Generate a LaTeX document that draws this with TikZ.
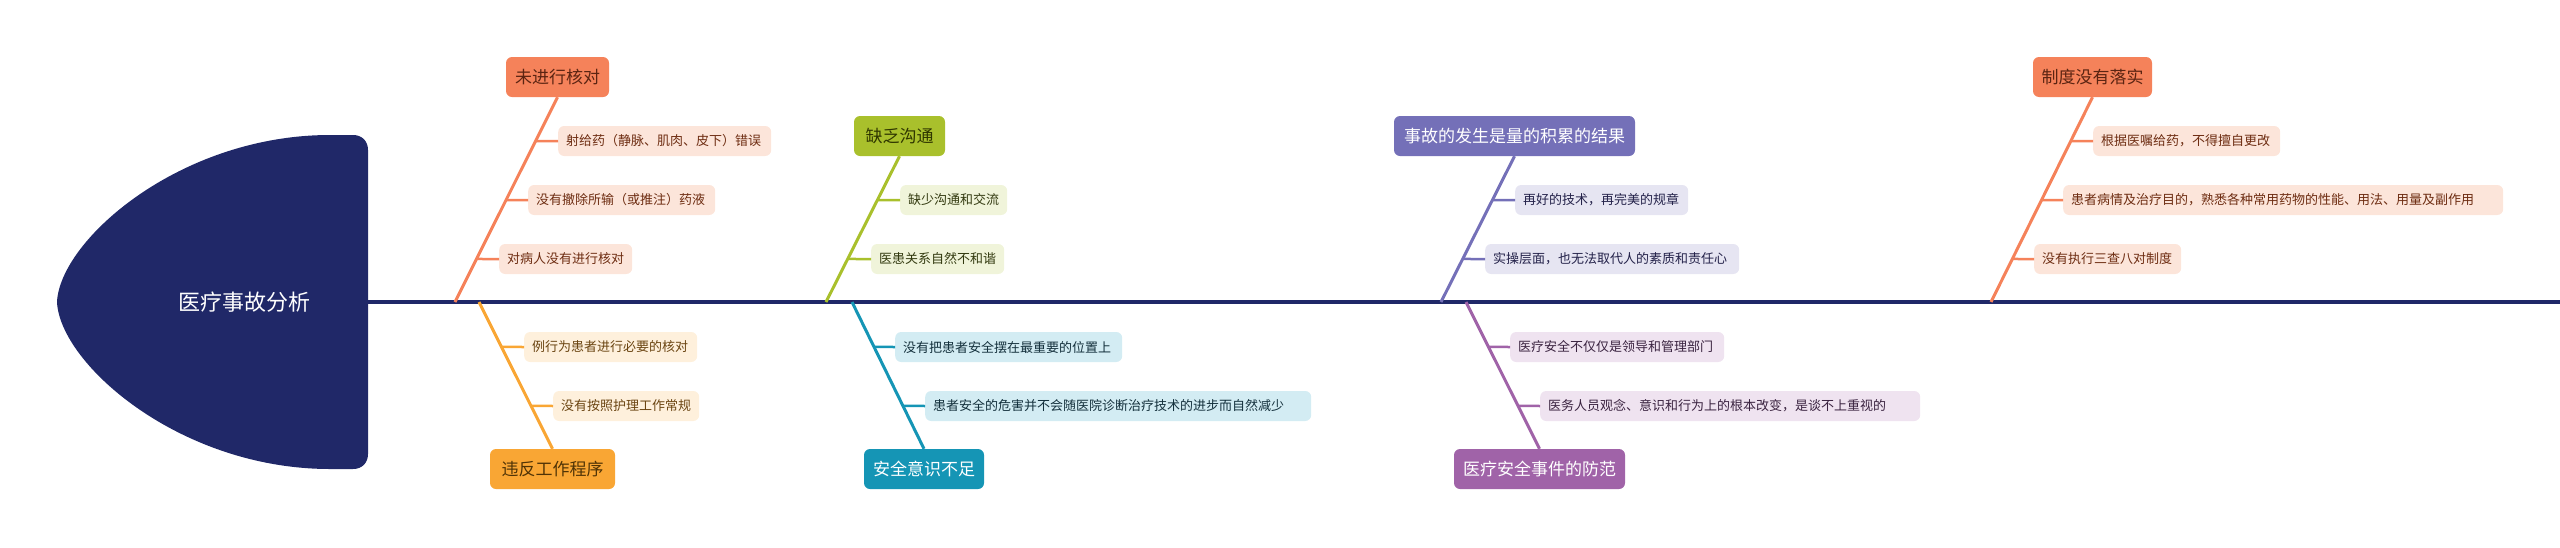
\documentclass[tikz,border=0pt]{standalone}
\usepackage{fontspec}
\setmainfont{Noto Sans CJK SC}
\usetikzlibrary{calc}
\definecolor{headc}{HTML}{202868}
\definecolor{orc}{HTML}{F5825A}
\definecolor{orsub}{HTML}{FCE5DA}
\definecolor{ortxt}{HTML}{5B2412}
\definecolor{orstxt}{HTML}{6E2D12}
\definecolor{amc}{HTML}{F9A634}
\definecolor{amsub}{HTML}{FEF0DC}
\definecolor{amtxt}{HTML}{4F3306}
\definecolor{amstxt}{HTML}{6B4512}
\definecolor{olc}{HTML}{A9C02C}
\definecolor{olsub}{HTML}{F0F4DA}
\definecolor{oltxt}{HTML}{2F3600}
\definecolor{olstxt}{HTML}{333A10}
\definecolor{tec}{HTML}{1595B5}
\definecolor{tesub}{HTML}{D3ECF3}
\definecolor{testxt}{HTML}{14303C}
\definecolor{slc}{HTML}{7470B8}
\definecolor{slsub}{HTML}{E6E5F2}
\definecolor{slstxt}{HTML}{24224A}
\definecolor{puc}{HTML}{A063A8}
\definecolor{pusub}{HTML}{EFE3F0}
\definecolor{pustxt}{HTML}{3A2340}
\newcommand\lb[2]{\hbox to #1pt{#2\hfil}}
\tikzset{
  mainbox/.style={rounded corners=6pt, minimum height=40pt, inner sep=0pt, font=\fontsize{17}{20}\selectfont},
  subbox/.style={rounded corners=6pt, minimum height=30pt, inner xsep=8pt, inner ysep=0pt, anchor=west, font=\fontsize{13}{16}\selectfont},
  bone/.style={line width=3pt},
  twig/.style={line width=2.5pt},
}
\begin{document}
\begin{tikzpicture}[x=1pt,y=-1pt]
\useasboundingbox (0,0) rectangle (2560,547);
% head
\fill[headc] (57,302) .. controls (60,240) and (180,135) .. (330,135) -- (353,135)
  .. controls (362,135) and (368,141) .. (368,150) -- (368,454)
  .. controls (368,463) and (362,469) .. (353,469) -- (330,469)
  .. controls (180,469) and (60,364) .. (57,302) -- cycle;
\node[text=white, font=\fontsize{22}{26}\selectfont] (head) at (244,302) {医疗事故分析};
\coordinate (hd) at (368,302);
\coordinate (tail) at (2560,302);
\draw[headc, line width=3.5pt] (hd) -- (tail);
% spine points
\coordinate (sA) at (455,302);
\coordinate (sB) at (479,302);
\coordinate (sC) at (826,302);
\coordinate (sD) at (852,302);
\coordinate (sE) at (1441,302);
\coordinate (sF) at (1466,302);
\coordinate (sG) at (1991,302);
% main nodes
\node[mainbox, fill=orc, text=ortxt, minimum width=103pt] (A) at (557.5,77) {未进行核对};
\node[mainbox, fill=amc, text=amtxt, minimum width=125pt] (B) at (552.5,469) {违反工作程序};
\node[mainbox, fill=olc, text=oltxt, minimum width=91pt] (C) at (899.5,136) {缺乏沟通};
\node[mainbox, fill=tec, text=white, minimum width=120pt] (D) at (924,469) {安全意识不足};
\node[mainbox, fill=slc, text=white, minimum width=241pt] (E) at (1514.5,136) {事故的发生是量的积累的结果};
\node[mainbox, fill=puc, text=white, minimum width=171pt] (F) at (1539.5,469) {医疗安全事件的防范};
\node[mainbox, fill=orc, text=ortxt, minimum width=119pt] (G) at (2092.5,77) {制度没有落实};
% bones
\draw[bone, orc] (A.south) -- (sA);
\draw[bone, amc] (sB) -- (B.north);
\draw[bone, olc] (C.south) -- (sC);
\draw[bone, tec] (sD) -- (D.north);
\draw[bone, slc] (E.south) -- (sE);
\draw[bone, puc] (sF) -- (F.north);
\draw[bone, orc] (G.south) -- (sG);
% sub nodes
\node[subbox, fill=orsub, text=orstxt] (A1) at (558,141) {\lb{197}{射给药（静脉、肌肉、皮下）错误}};
\node[subbox, fill=orsub, text=orstxt] (A2) at (528,200) {\lb{171}{没有撤除所输（或推注）药液}};
\node[subbox, fill=orsub, text=orstxt] (A3) at (499,259) {\lb{117}{对病人没有进行核对}};
\node[subbox, fill=amsub, text=amstxt] (B1) at (524,347) {\lb{157}{例行为患者进行必要的核对}};
\node[subbox, fill=amsub, text=amstxt] (B2) at (553,406) {\lb{130}{没有按照护理工作常规}};
\node[subbox, fill=olsub, text=olstxt] (C1) at (900,200) {\lb{91}{缺少沟通和交流}};
\node[subbox, fill=olsub, text=olstxt] (C2) at (871,259) {\lb{117}{医患关系自然不和谐}};
\node[subbox, fill=tesub, text=testxt] (D1) at (895,347) {\lb{211}{没有把患者安全摆在最重要的位置上}};
\node[subbox, fill=tesub, text=testxt] (D2) at (925,406) {\lb{370}{患者安全的危害并不会随医院诊断治疗技术的进步而自然减少}};
\node[subbox, fill=slsub, text=slstxt] (E1) at (1515,200) {\lb{157}{再好的技术，再完美的规章}};
\node[subbox, fill=slsub, text=slstxt] (E2) at (1485,259) {\lb{238}{实操层面，也无法取代人的素质和责任心}};
\node[subbox, fill=pusub, text=pustxt] (F1) at (1510,347) {\lb{198}{医疗安全不仅仅是领导和管理部门}};
\node[subbox, fill=pusub, text=pustxt] (F2) at (1540,406) {\lb{364}{医务人员观念、意识和行为上的根本改变，是谈不上重视的}};
\node[subbox, fill=orsub, text=orstxt] (G1) at (2093,141) {\lb{171}{根据医嘱给药，不得擅自更改}};
\node[subbox, fill=orsub, text=orstxt] (G2) at (2063,200) {\lb{424}{患者病情及治疗目的，熟悉各种常用药物的性能、用法、用量及副作用}};
\node[subbox, fill=orsub, text=orstxt] (G3) at (2034,259) {\lb{131}{没有执行三查八对制度}};
% twigs
\draw[twig, orc] (A1.west) -- ($(A.south)!0.215!(sA)$);
\draw[twig, orc] (A2.west) -- ($(A.south)!0.502!(sA)$);
\draw[twig, orc] (A3.west) -- ($(A.south)!0.790!(sA)$);
\draw[twig, amc] (B1.west) -- ($(sB)!0.306!(B.north)$);
\draw[twig, amc] (B2.west) -- ($(sB)!0.707!(B.north)$);
\draw[twig, olc] (C1.west) -- ($(C.south)!0.301!(sC)$);
\draw[twig, olc] (C2.west) -- ($(C.south)!0.705!(sC)$);
\draw[twig, tec] (D1.west) -- ($(sD)!0.306!(D.north)$);
\draw[twig, tec] (D2.west) -- ($(sD)!0.707!(D.north)$);
\draw[twig, slc] (E1.west) -- ($(E.south)!0.301!(sE)$);
\draw[twig, slc] (E2.west) -- ($(E.south)!0.705!(sE)$);
\draw[twig, puc] (F1.west) -- ($(sF)!0.306!(F.north)$);
\draw[twig, puc] (F2.west) -- ($(sF)!0.707!(F.north)$);
\draw[twig, orc] (G1.west) -- ($(G.south)!0.215!(sG)$);
\draw[twig, orc] (G2.west) -- ($(G.south)!0.502!(sG)$);
\draw[twig, orc] (G3.west) -- ($(G.south)!0.790!(sG)$);
\end{tikzpicture}
\end{document}
